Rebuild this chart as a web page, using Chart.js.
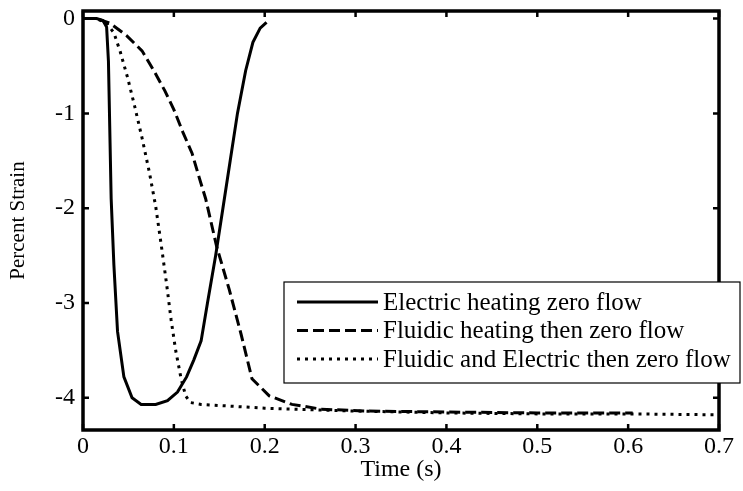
<!DOCTYPE html>
<html>
<head>
<meta charset="utf-8">
<script src="https://cdn.jsdelivr.net/npm/chart.js@4.4.0/dist/chart.umd.min.js"></script>
<style>
  body { margin: 0; background: #fff; }
  canvas { display: block; }
</style>
</head>
<body>
<canvas id="myChart" width="743" height="491"></canvas>
<script>
// dati
const seriesLabels = ["Electric heating zero flow", "Fluidic heating then zero flow", "Fluidic and Electric then zero flow"];

const electricTime = [0, 0.015, 0.022, 0.026, 0.028, 0.031, 0.034, 0.038, 0.045, 0.054, 0.064, 0.080, 0.093, 0.104, 0.114, 0.122, 0.130, 0.137, 0.146, 0.154, 0.162, 0.170, 0.179, 0.187, 0.195, 0.202];
const electricStrain = [0, 0, -0.02, -0.09, -0.45, -1.9, -2.6, -3.3, -3.78, -4.0, -4.07, -4.07, -4.03, -3.94, -3.78, -3.6, -3.4, -3.0, -2.5, -2.0, -1.5, -1.0, -0.55, -0.25, -0.1, -0.04];

const fluidicTime = [0, 0.015, 0.030, 0.048, 0.065, 0.078, 0.090, 0.100, 0.110, 0.120, 0.128, 0.135, 0.147, 0.161, 0.174, 0.186, 0.205, 0.230, 0.262, 0.310, 0.400, 0.500, 0.605];
const fluidicStrain = [0, 0, -0.05, -0.18, -0.34, -0.55, -0.76, -0.96, -1.2, -1.42, -1.68, -1.9, -2.4, -2.86, -3.33, -3.8, -3.98, -4.07, -4.12, -4.14, -4.15, -4.16, -4.16];

const bothTime = [0, 0.015, 0.026, 0.034, 0.041, 0.049, 0.057, 0.065, 0.073, 0.080, 0.086, 0.092, 0.097, 0.102, 0.108, 0.113, 0.118, 0.130, 0.165, 0.200, 0.300, 0.400, 0.500, 0.600, 0.700];
const bothStrain = [0, 0, -0.05, -0.15, -0.35, -0.62, -0.93, -1.26, -1.62, -1.98, -2.38, -2.8, -3.18, -3.5, -3.8, -3.98, -4.05, -4.07, -4.09, -4.11, -4.14, -4.16, -4.17, -4.17, -4.18];

const xTicks = [0, 0.1, 0.2, 0.3, 0.4, 0.5, 0.6, 0.7];
const xTickLabels = ["0", "0.1", "0.2", "0.3", "0.4", "0.5", "0.6", "0.7"];
const yTicks = [-4, -3, -2, -1, 0];
const yTickLabels = ["-4", "-3", "-2", "-1", "0"];

const FONT = "'Liberation Serif', 'Times New Roman', serif";

function toPoints(ts, vs) {
  return ts.map((t, i) => ({ x: t, y: vs[i] }));
}

// niente padding automatico delle etichette
function noPad(scale) {
  scale.paddingTop = 0;
  scale.paddingBottom = 0;
  scale.paddingLeft = 0;
  scale.paddingRight = 0;
}

// riquadro stile MATLAB con tacche verso l'interno + legenda
const framePlugin = {
  id: "frame",
  afterDatasetsDraw(chart) {
    const { ctx, chartArea: a, scales: { x, y } } = chart;
    ctx.save();
    ctx.strokeStyle = "#000";
    ctx.lineWidth = 3.5;
    ctx.setLineDash([]);
    ctx.strokeRect(a.left, a.top, a.right - a.left, a.bottom - a.top);
    ctx.lineWidth = 2.5;
    const tl = 6;
    ctx.beginPath();
    xTicks.forEach(v => {
      const px = x.getPixelForValue(v);
      ctx.moveTo(px, a.bottom); ctx.lineTo(px, a.bottom - tl);
      ctx.moveTo(px, a.top); ctx.lineTo(px, a.top + tl);
    });
    yTicks.forEach(v => {
      const py = y.getPixelForValue(v);
      ctx.moveTo(a.left, py); ctx.lineTo(a.left + tl, py);
      ctx.moveTo(a.right, py); ctx.lineTo(a.right - tl, py);
    });
    ctx.stroke();

    // legenda
    const lx = 284, ly = 282, lw = 456, lh = 101;
    ctx.fillStyle = "#fff";
    ctx.fillRect(lx, ly, lw, lh);
    ctx.lineWidth = 1.2;
    ctx.strokeRect(lx, ly, lw, lh);
    ctx.font = "25px " + FONT;
    ctx.textBaseline = "middle";
    ctx.fillStyle = "#000";
    chart.data.datasets.forEach((ds, i) => {
      const ry = ly + 20 + i * 28.5;
      ctx.beginPath();
      ctx.lineWidth = 3;
      ctx.setLineDash(ds.borderDash || []);
      ctx.moveTo(lx + 13, ry);
      ctx.lineTo(lx + 94, ry);
      ctx.stroke();
      ctx.setLineDash([]);
      ctx.fillText(ds.label, lx + 99, ry + 1);
    });
    ctx.restore();
  }
};

const ctx = document.getElementById("myChart").getContext("2d");
const myChart = new Chart(ctx, {
  type: "line",
  data: {
    datasets: [
      { label: seriesLabels[0], data: toPoints(electricTime, electricStrain), borderColor: "#000", borderWidth: 3, borderDash: [] },
      { label: seriesLabels[1], data: toPoints(fluidicTime, fluidicStrain), borderColor: "#000", borderWidth: 3, borderDash: [11, 5] },
      { label: seriesLabels[2], data: toPoints(bothTime, bothStrain), borderColor: "#000", borderWidth: 3, borderDash: [3, 5] },
    ],
  },
  options: {
    responsive: false,
    animation: false,
    devicePixelRatio: 1,
    layout: { padding: { left: 0, top: 11, right: 24, bottom: 0 } },
    elements: { point: { radius: 0 }, line: { tension: 0, borderCapStyle: "butt" } },
    plugins: { legend: { display: false }, tooltip: { enabled: false } },
    scales: {
      x: {
        type: "linear",
        min: 0,
        max: 0.7,
        afterFit(scale) { scale.height = 61; noPad(scale); },
        afterBuildTicks(scale) { scale.ticks = xTicks.map(v => ({ value: v })); },
        grid: { display: false, drawTicks: false },
        border: { display: false },
        ticks: {
          color: "#000",
          padding: 2,
          maxRotation: 0,
          font: { family: FONT, size: 24 },
          callback: (v, i) => xTickLabels[i],
        },
        title: { display: true, text: "Time (s)", color: "#000", font: { family: FONT, size: 24 }, padding: { top: 0, bottom: 7 } },
      },
      y: {
        type: "linear",
        min: -4.34,
        max: 0.08,
        afterFit(scale) { scale.width = 83; noPad(scale); },
        afterBuildTicks(scale) { scale.ticks = yTicks.map(v => ({ value: v })); },
        grid: { display: false, drawTicks: false },
        border: { display: false },
        ticks: {
          color: "#000",
          padding: 8,
          font: { family: FONT, size: 24 },
          callback: (v, i) => yTickLabels[i],
        },
        title: { display: true, text: "Percent Strain", color: "#000", font: { family: FONT, size: 21 }, padding: { top: 6, bottom: 0 } },
      },
    },
  },
  plugins: [framePlugin],
});
</script>
</body>
</html>
